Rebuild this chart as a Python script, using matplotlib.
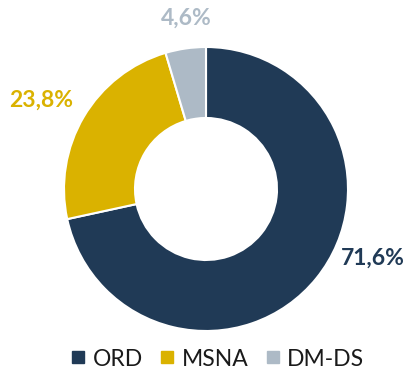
import matplotlib
matplotlib.use("Agg")
import matplotlib.pyplot as plt
from matplotlib.lines import Line2D

categories = ["ORD", "MSNA", "DM-DS"]
shares = [71.6, 23.8, 4.6]
labels = ["71,6%", "23,8%", "4,6%"]
colors = ["#203A56", "#DAB200", "#ADBAC6"]

W, H = 407, 376
fig = plt.figure(figsize=(W / 100, H / 100), dpi=100)
ax = fig.add_axes([0, 0, 1, 1])

cx, cy, r = 206, H - 189, 142
ax.pie(shares, colors=colors, startangle=90, counterclock=False,
       center=(cx, cy), radius=r, frame=True,
       wedgeprops=dict(width=r * 0.5, edgecolor="white", linewidth=1.5))
ax.set_xlim(0, W)
ax.set_ylim(0, H)
ax.set_aspect("equal")
ax.axis("off")

font = "Lato"
pos = [(405, H - 258, "right"), (9, H - 100, "left"), (186, H - 18, "center")]
for (x, y, ha), lab, col in zip(pos, labels, colors):
    ax.text(x, y, lab, color=col, fontsize=16.5, fontweight="bold",
            family=font, ha=ha, va="center", zorder=10)

handles = [Line2D([], [], marker="s", linestyle="none", markersize=8,
                  markerfacecolor=c, markeredgecolor=c) for c in colors]
fig.legend(handles, categories, loc="center", bbox_to_anchor=(0.536, 1 - 359 / H),
           ncol=3, frameon=False, handlelength=0.55, handletextpad=0.35,
           columnspacing=0.8, prop=dict(family=font, size=16.5),
           labelcolor="#1a1a1a")

fig.savefig("out.png", dpi=100)
